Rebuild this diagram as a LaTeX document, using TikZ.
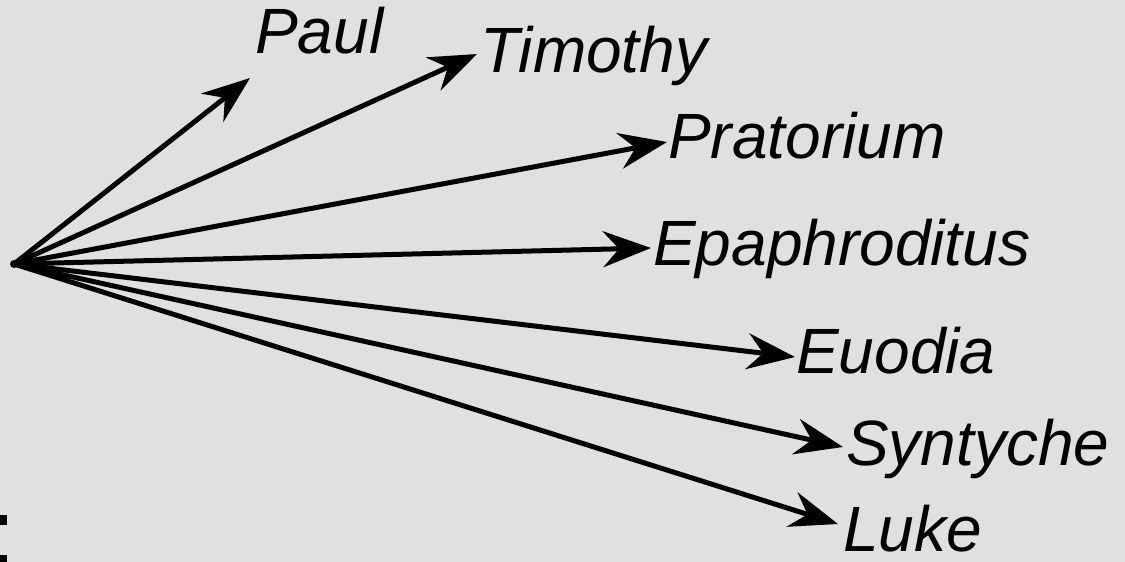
\documentclass[tikz,border=0pt]{standalone}
\usepackage{fontspec}
\setmainfont{Liberation Sans}
\usetikzlibrary{arrows.meta}
\definecolor{bg}{RGB}{224,224,224}
\begin{document}
\begin{tikzpicture}[x=1pt,y=-1pt,
  lbl/.style={anchor=base west,inner sep=0pt,font=\fontsize{64}{64}\selectfont\itshape},
  arr/.style={line width=5pt,-{Stealth[length=48pt,width=36pt,inset=16pt]}}]
\fill[bg] (0,0) rectangle (1125,562);
\useasboundingbox (0,0) rectangle (1125,562);
\fill[black] (0,515) rectangle (7,525);
\fill[black] (0,555) rectangle (7,562);
\coordinate (o) at (14,264);
\fill (o) circle (4pt);
\coordinate (tPaul) at (250,78);
\coordinate (tTim) at (477,54);
\coordinate (tPra) at (667,142);
\coordinate (tEpa) at (651,248);
\coordinate (tEuo) at (795,357);
\coordinate (tSyn) at (843,447);
\coordinate (tLuk) at (838,524);
\node[lbl] (paul) at (255,53) {Paul};
\node[lbl] (tim) at (480,72) {Timothy};
\node[lbl] (pra) at (668,158) {Pratorium};
\node[lbl] (epa) at (653,265) {Epaphroditus};
\node[lbl] (euo) at (796,373) {Euodia};
\node[lbl] (syn) at (846,465) {Syntyche};
\node[lbl] (luk) at (843,551) {Luke};
\foreach \t in {tPaul,tTim,tPra,tEpa,tEuo,tSyn,tLuk}
  \draw[arr] (o) -- (\t);
\end{tikzpicture}
\end{document}
